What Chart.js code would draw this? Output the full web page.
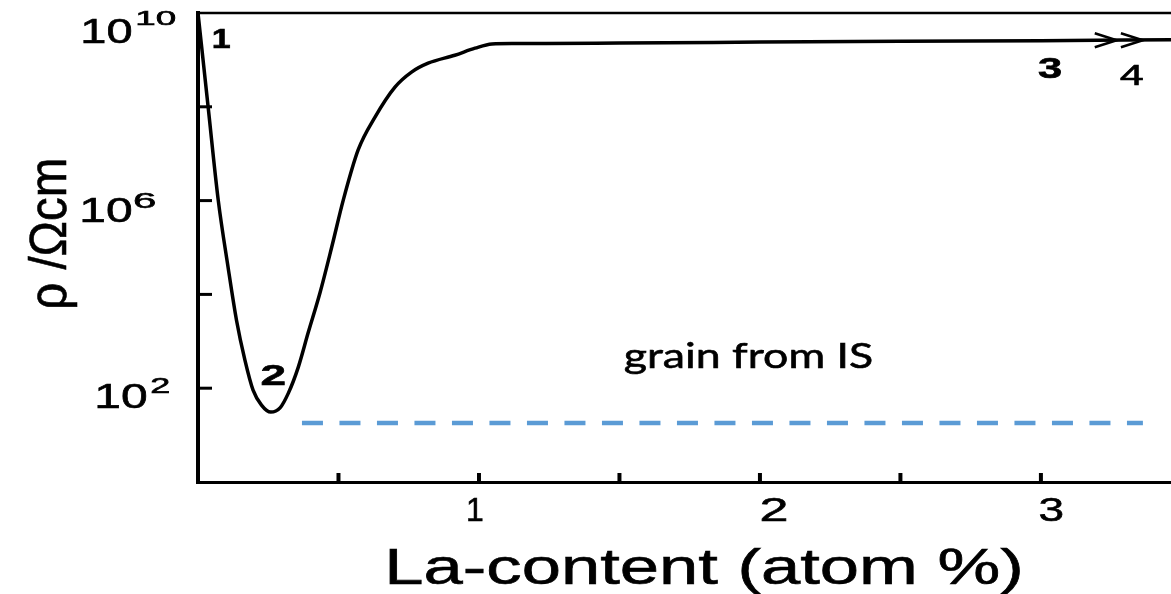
<!DOCTYPE html>
<html>
<head>
<meta charset="utf-8">
<script src="https://cdn.jsdelivr.net/npm/chart.js@4.4.1/dist/chart.umd.min.js"></script>
<style>
  html, body { margin: 0; padding: 0; background: #fff; overflow: hidden; }
  #c { display: block; }
</style>
</head>
<body>
<canvas id="c" width="1171" height="594"></canvas>
<script>
// Resistivity of La-doped ceramic vs. La content (log10 of rho in Ohm*cm)
const laContent = [0, 0.036, 0.072, 0.107, 0.137, 0.167, 0.196, 0.226, 0.259,
                   0.292, 0.322, 0.357, 0.392, 0.434, 0.476, 0.517, 0.570, 0.630, 0.701,
                   0.760, 0.819, 0.914, 0.986, 1.046, 1.117, 1.236, 1.5, 2.0, 2.5, 3.0, 3.463];
const logRho    = [10.0, 8.0, 6.01, 4.58, 3.45, 2.60, 1.96, 1.64, 1.49,
                   1.58, 1.90, 2.45, 3.18, 4.03, 5.01, 6.01, 7.08, 7.78, 8.42,
                   8.74, 8.93, 9.10, 9.25, 9.34, 9.35, 9.35, 9.36, 9.38, 9.40, 9.41, 9.43];

// Grain resistivity from impedance spectroscopy
const grainX   = [0.370, 3.363];
const grainLog = [1.26, 1.26];

// Axis ticks
const xTickValues = [0.5, 1, 1.5, 2, 2.5, 3];
const xTickLabels = ['1', '2', '3'];
const xLabelValues = [1, 2, 3];
const yTickExps = [2, 4, 6, 8];
const yLabelExps = [2, 6, 10];

// Region markers along the curve
const markerText = ['1', '2', '3', '4'];
const markerX    = [0.053, 0.228, 2.99, 3.281];
const markerLog  = [9.25, 2.07, 8.61, 8.46];
const arrowX     = [3.27, 3.363];
const arrowLog   = [9.42, 9.42];

const FONT = '"Liberation Sans", Arial, sans-serif';

function fitText(ctx, text, font, left, baseline, inkW) {
  ctx.save();
  ctx.font = font;
  ctx.textAlign = 'left';
  ctx.textBaseline = 'alphabetic';
  const m = ctx.measureText(text);
  const ink = m.actualBoundingBoxLeft + m.actualBoundingBoxRight;
  const s = inkW / ink;
  ctx.translate(left, baseline);
  ctx.scale(s, 1);
  ctx.fillStyle = '#000';
  ctx.strokeStyle = '#000';
  ctx.lineWidth = 0.6;
  ctx.fillText(text, m.actualBoundingBoxLeft, 0);
  ctx.strokeText(text, m.actualBoundingBoxLeft, 0);
  ctx.restore();
}

const decorations = {
  id: 'decorations',
  afterDraw(chart) {
    const ctx = chart.ctx;
    const xs = chart.scales.x, ys = chart.scales.y;
    const area = chart.chartArea;
    ctx.save();
    ctx.strokeStyle = '#000';
    ctx.lineCap = 'butt';

    // top frame line
    ctx.lineWidth = 2.5;
    ctx.beginPath();
    ctx.moveTo(area.left - 2, area.top);
    ctx.lineTo(area.right, area.top);
    ctx.stroke();

    // close the axis corner
    ctx.fillStyle = '#000';
    ctx.fillRect(area.left - 2, area.bottom - 1, 4, 3);

    // inward tick marks
    ctx.lineWidth = 3;
    yTickExps.forEach(e => {
      const y = ys.getPixelForValue(Math.pow(10, e));
      ctx.beginPath();
      ctx.moveTo(area.left, y);
      ctx.lineTo(area.left + 14, y);
      ctx.stroke();
    });
    ctx.lineWidth = 4;
    xTickValues.forEach(v => {
      const x = xs.getPixelForValue(v);
      ctx.beginPath();
      ctx.moveTo(x, area.bottom);
      ctx.lineTo(x, area.bottom - 9);
      ctx.stroke();
    });

    // arrow heads on the plateau
    ctx.lineWidth = 2.5;
    arrowX.forEach((v, i) => {
      const x = xs.getPixelForValue(v);
      const y = ys.getPixelForValue(Math.pow(10, arrowLog[i]));
      ctx.beginPath();
      ctx.moveTo(x - 22, y - 7);
      ctx.lineTo(x, y);
      ctx.lineTo(x - 22, y + 7);
      ctx.stroke();
    });
    ctx.restore();

    // y tick labels 10^n
    const yLab = {
      10: { left: 83, dy: 30, w: 49, sup: { text: '10', left: 137, dy: 12, w: 38, size: 21 } },
      6:  { left: 82, dy: 21, w: 50, sup: { text: '6', left: 135, dy: 7, w: 21, size: 22 } },
      2:  { left: 97, dy: 20, w: 50, sup: { text: '2', left: 152, dy: 5, w: 18, size: 22 } }
    };
    yLabelExps.forEach(e => {
      const L = yLab[e];
      const y = ys.getPixelForValue(Math.pow(10, e));
      fitText(ctx, '10', '35px ' + FONT, L.left, y + L.dy, L.w);
      fitText(ctx, L.sup.text, L.sup.size + 'px ' + FONT, L.sup.left, y + L.sup.dy, L.sup.w);
    });

    // x tick labels
    const xLab = [{ dx: -11, w: 15 }, { dx: 1, w: 26 }, { dx: -1, w: 23 }];
    xLabelValues.forEach((v, i) => {
      const x = xs.getPixelForValue(v);
      fitText(ctx, xTickLabels[i], '34px ' + FONT, x + xLab[i].dx, area.bottom + 39, xLab[i].w);
    });

    // axis titles
    fitText(ctx, 'La-content (atom %)', '50px ' + FONT, 390, 584, 630);
    ctx.save();
    ctx.translate(66, 307);
    ctx.rotate(-Math.PI / 2);
    fitText(ctx, 'ρ /Ωcm', '51px ' + FONT, 0, 0, 147);
    ctx.restore();

    // annotation
    fitText(ctx, 'grain from IS', '35px Lato, "Open Sans", sans-serif', 625, 368, 247);

    // region markers
    const mk = [
      { font: 'bold 28px ' + FONT, w: 17 },
      { font: 'bold 30px ' + FONT, w: 23 },
      { font: 'bold 29px ' + FONT, w: 24 },
      { font: '30px ' + FONT, w: 23 }
    ];
    markerText.forEach((t, i) => {
      const x = xs.getPixelForValue(markerX[i]);
      const y = ys.getPixelForValue(Math.pow(10, markerLog[i]));
      fitText(ctx, t, mk[i].font, x, y, mk[i].w);
    });
  }
};

new Chart(document.getElementById('c'), {
  type: 'line',
  data: {
    datasets: [
      {
        data: laContent.map((x, i) => ({ x: x, y: Math.pow(10, logRho[i]) })),
        borderColor: '#000',
        borderWidth: 3.5,
        pointRadius: 0,
        cubicInterpolationMode: 'monotone',
        fill: false
      },
      {
        data: grainX.map((x, i) => ({ x: x, y: Math.pow(10, grainLog[i]) })),
        borderColor: '#5B9BD5',
        borderWidth: 4.5,
        borderDash: [21, 16.5],
        borderCapStyle: 'butt',
        pointRadius: 0,
        fill: false
      }
    ]
  },
  options: {
    responsive: false,
    animation: false,
    devicePixelRatio: 1,
    layout: { padding: { top: 13, right: 0, left: 0, bottom: 0 } },
    plugins: { legend: { display: false }, tooltip: { enabled: false } },
    scales: {
      x: {
        type: 'linear', min: 0, max: 3.463,
        grid: { display: false, drawTicks: false },
        border: { display: true, color: '#000', width: 3 },
        ticks: { display: false },
        afterFit(s) { s.height = 112; }
      },
      y: {
        type: 'logarithmic', min: 1, max: 1e10,
        grid: { display: false, drawTicks: false },
        border: { display: true, color: '#000', width: 4 },
        ticks: { display: false },
        afterFit(s) { s.width = 198; }
      }
    }
  },
  plugins: [decorations]
});
</script>
</body>
</html>
